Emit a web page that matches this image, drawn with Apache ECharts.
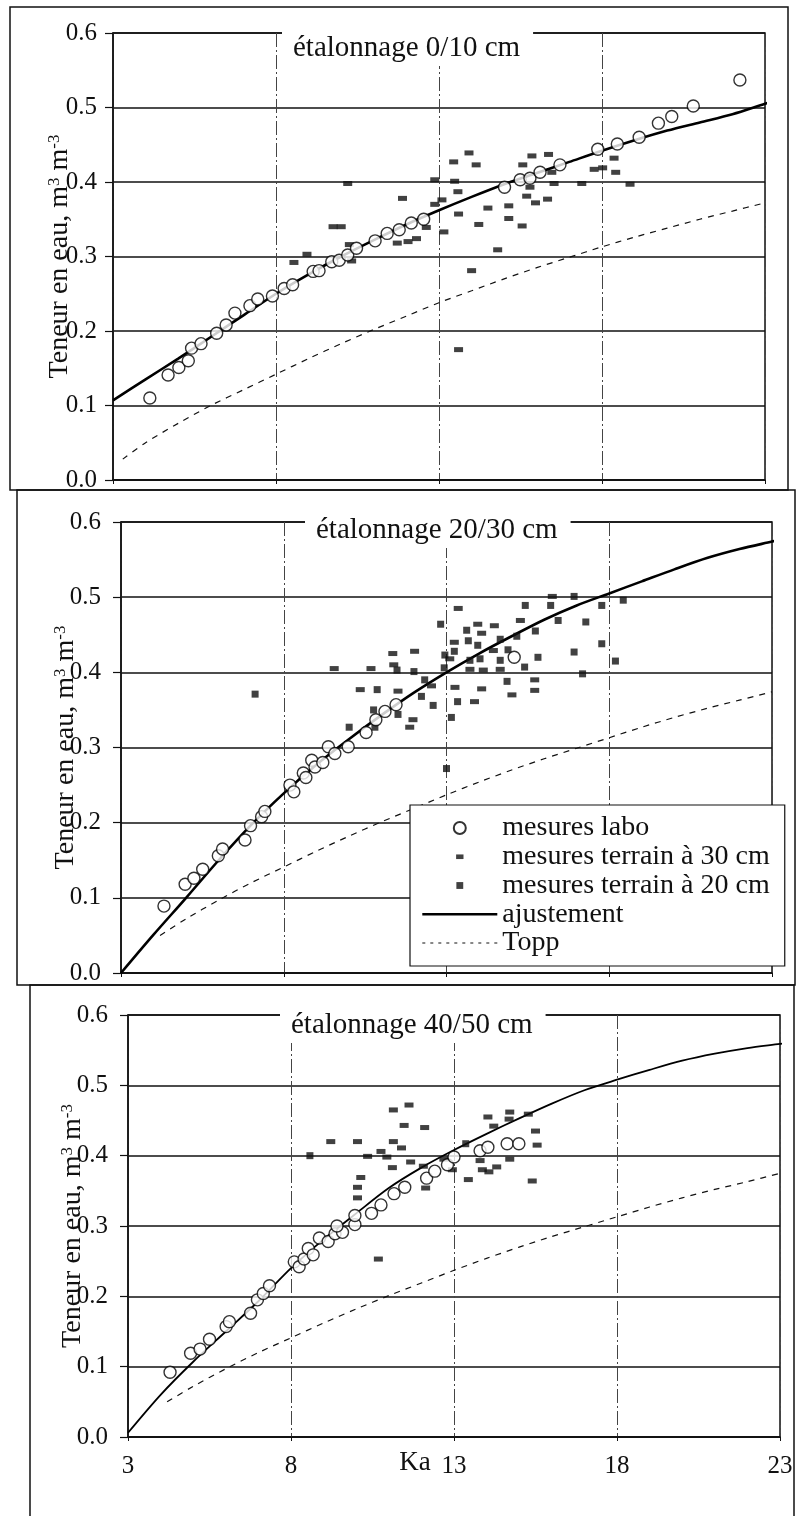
<!DOCTYPE html>
<html><head><meta charset="utf-8">
<script src="https://cdn.jsdelivr.net/npm/echarts@6/dist/echarts.min.js"></script>
<style>html,body{margin:0;padding:0;background:#fff}#c{width:797px;height:1516px}</style>
</head><body><div id="c"></div>
<script>
const FONT = '"Liberation Serif","Times New Roman",serif';
const panelTitles = ['étalonnage 0/10 cm', 'étalonnage 20/30 cm', 'étalonnage 40/50 cm'];
const xTickLabels = ['3', '8', '13', '18', '23'];
const yTickLabels = ['0.0', '0.1', '0.2', '0.3', '0.4', '0.5', '0.6'];
const NAME_LABO = 'mesures labo';
const NAME_T30 = 'mesures terrain à 30 cm';
const NAME_T20 = 'mesures terrain à 20 cm';
const NAME_FIT = 'ajustement';
const NAME_TOPP = 'Topp';

// fitted curves (ajustement)
const fitKa = [3,4,5,6,7,8,9,10,11,12,13,14,15,16,17,18,19,20,21,22,23,23.3];
const p1Fit = [0.107,0.135,0.163,0.192,0.221,0.250,0.276,0.300,0.322,0.343,0.362,0.380,0.397,0.412,0.427,0.442,0.456,0.469,0.480,0.491,0.505,0.509];
const p2Fit = [0.000,0.051,0.100,0.150,0.197,0.239,0.277,0.311,0.343,0.373,0.400,0.425,0.448,0.470,0.489,0.505,0.521,0.537,0.552,0.564,0.574,0.577];
const p3Fit = [0.006,0.060,0.107,0.150,0.193,0.240,0.281,0.318,0.354,0.383,0.408,0.431,0.453,0.474,0.493,0.508,0.522,0.535,0.545,0.553,0.559,0.561];

// Topp curves
const toppKaP1 = [3.3,4,5,6,7,8,9,10,11,12,13,14,15,16,17,18,19,20,21,22,23];
const toppP1 = [0.028,0.050,0.076,0.100,0.121,0.142,0.163,0.183,0.202,0.220,0.238,0.254,0.270,0.285,0.299,0.313,0.326,0.338,0.350,0.361,0.372];
const toppKaP23 = [4.2,5,6,7,8,9,10,11,12,13,14,15,16,17,18,19,20,21,22,23];
const toppP2 = [0.050,0.072,0.097,0.120,0.141,0.162,0.182,0.201,0.219,0.237,0.254,0.270,0.285,0.299,0.313,0.327,0.340,0.352,0.363,0.374];
const toppP3 = [0.050,0.072,0.097,0.120,0.141,0.162,0.182,0.201,0.219,0.237,0.254,0.270,0.285,0.299,0.313,0.327,0.340,0.352,0.363,0.375];

// panel 1 (0/10 cm)
const p1Labo = [[4.13,0.110],[4.69,0.141],[5.02,0.151],[5.31,0.160],[5.41,0.177],[5.70,0.183],[6.18,0.197],[6.47,0.208],[6.74,0.224],[7.20,0.234],[7.44,0.243],[7.89,0.247],[8.25,0.257],[8.51,0.262],[9.14,0.280],[9.32,0.281],[9.71,0.293],[9.94,0.295],[10.20,0.302],[10.47,0.311],[11.04,0.321],[11.41,0.331],[11.78,0.336],[12.15,0.345],[12.53,0.350],[15.01,0.393],[15.49,0.403],[15.79,0.405],[16.10,0.413],[16.71,0.423],[17.87,0.444],[18.47,0.451],[19.14,0.460],[19.73,0.479],[20.14,0.488],[20.80,0.502],[22.23,0.537]];
const p1Field30 = [[8.55,0.292],[8.95,0.303],[9.75,0.340],[10.0,0.340],[10.2,0.398],[10.25,0.316],[10.32,0.294],[11.72,0.318],[12.05,0.320],[11.88,0.378],[12.31,0.324],[12.61,0.339],[12.87,0.403],[12.87,0.370],[13.09,0.376],[13.15,0.333],[13.45,0.427],[13.48,0.401],[13.58,0.387],[13.60,0.357],[13.60,0.175],[13.92,0.439],[14.0,0.281],[14.14,0.423],[14.22,0.343],[14.50,0.365],[14.80,0.309],[15.14,0.368],[15.14,0.351],[15.55,0.341],[15.57,0.423],[15.69,0.381],[15.79,0.393],[15.85,0.435],[15.96,0.372],[16.33,0.377],[16.36,0.437],[16.46,0.413],[16.53,0.398],[17.38,0.398],[17.76,0.417],[18.02,0.419],[18.37,0.432],[18.42,0.413],[18.86,0.397]];
const p1Field20 = [];

// panel 2 (20/30 cm)
const p2Labo = [[4.32,0.089],[4.97,0.118],[5.24,0.126],[5.51,0.138],[5.99,0.156],[6.12,0.165],[6.81,0.177],[6.98,0.196],[7.32,0.208],[7.42,0.215],[8.19,0.250],[8.31,0.241],[8.60,0.266],[8.68,0.260],[8.86,0.283],[8.96,0.274],[9.20,0.280],[9.37,0.301],[9.57,0.292],[9.98,0.301],[10.53,0.320],[10.83,0.337],[11.11,0.348],[11.45,0.357],[15.08,0.420]];
const p2Field30 = [[9.55,0.405],[10.35,0.377],[10.68,0.405],[11.35,0.425],[11.38,0.410],[11.51,0.375],[11.87,0.327],[11.97,0.337],[12.02,0.428],[12.54,0.382],[13.1,0.418],[13.24,0.440],[13.26,0.380],[13.36,0.485],[13.72,0.404],[13.86,0.361],[13.96,0.464],[14.08,0.452],[14.08,0.378],[14.13,0.403],[14.44,0.429],[14.47,0.462],[14.65,0.404],[15.01,0.370],[15.27,0.469],[15.71,0.390],[15.71,0.376],[16.25,0.501]];
const p2Field20 = [[7.12,0.371],[10.01,0.327],[10.76,0.350],[10.80,0.327],[10.87,0.377],[11.48,0.403],[11.51,0.344],[12.0,0.401],[12.23,0.368],[12.33,0.390],[12.59,0.356],[12.82,0.464],[12.93,0.406],[12.95,0.423],[13.0,0.272],[13.15,0.340],[13.24,0.428],[13.34,0.361],[13.62,0.456],[13.67,0.442],[13.72,0.416],[13.96,0.436],[14.03,0.418],[14.65,0.444],[14.65,0.416],[14.86,0.388],[14.89,0.430],[15.16,0.448],[15.40,0.407],[15.42,0.489],[15.73,0.455],[15.81,0.420],[16.20,0.489],[16.43,0.469],[16.92,0.501],[16.92,0.427],[17.18,0.398],[17.28,0.467],[17.77,0.489],[17.77,0.438],[18.19,0.415],[18.43,0.496]];

// panel 3 (40/50 cm)
const p3Labo = [[4.29,0.092],[4.92,0.119],[5.21,0.125],[5.50,0.139],[6.01,0.157],[6.11,0.164],[6.76,0.176],[6.97,0.195],[7.15,0.204],[7.34,0.215],[8.10,0.249],[8.25,0.242],[8.40,0.253],[8.53,0.268],[8.68,0.259],[8.87,0.283],[9.14,0.278],[9.35,0.289],[9.58,0.291],[9.41,0.300],[9.96,0.302],[9.96,0.315],[10.47,0.318],[10.76,0.330],[11.16,0.346],[11.49,0.355],[12.16,0.368],[12.41,0.378],[12.80,0.387],[13.0,0.398],[13.80,0.407],[14.04,0.412],[14.63,0.417],[14.99,0.417]];
const p3Field30 = [[9.22,0.420],[10.04,0.420],[11.14,0.420],[11.14,0.465],[11.62,0.472],[11.47,0.443],[12.10,0.440],[11.39,0.411],[10.35,0.399],[10.76,0.406],[10.94,0.398],[11.67,0.391],[11.11,0.383],[10.14,0.369],[10.04,0.355],[10.04,0.340],[10.68,0.253],[12.13,0.354],[13.44,0.366],[13.80,0.393],[13.87,0.380],[14.07,0.377],[14.31,0.384],[14.71,0.395],[15.40,0.364],[14.04,0.455],[14.71,0.462],[14.22,0.442],[14.69,0.452],[15.28,0.459],[15.50,0.435],[15.55,0.415],[12.06,0.385],[12.69,0.395],[12.95,0.380]];
const p3Field20 = [[8.58,0.400],[13.36,0.417]];

const zip = (xs, ys) => xs.map((x, i) => [x, ys[i]]);

const panels = [
  { grid: {left:113, top:33, width:652, height:447}, labMargin:16, nameGap:39, title:{left:282, top:27},
    labo:p1Labo, f30:p1Field30, f20:p1Field20, fit:zip(fitKa,p1Fit), topp:zip(toppKaP1,toppP1), fitW:2.6 },
  { grid: {left:121, top:522, width:651, height:451}, labMargin:20, nameGap:41, title:{left:305, top:509},
    labo:p2Labo, f30:p2Field30, f20:p2Field20, fit:zip(fitKa,p2Fit), topp:zip(toppKaP23,toppP2), fitW:2.6 },
  { grid: {left:128, top:1015, width:652, height:422}, labMargin:20, nameGap:41, title:{left:280, top:1004},
    labo:p3Labo, f30:p3Field30, f20:p3Field20, fit:zip(fitKa,p3Fit), topp:zip(toppKaP23,toppP3), fitW:1.8 }
];

const grids = [], xAxes = [], yAxes = [], series = [], titles = [];
panels.forEach((p, i) => {
  grids.push(Object.assign({show:true, borderColor:'#111', borderWidth:1.5, backgroundColor:'transparent'}, p.grid));
  titles.push({
    text: panelTitles[i], left: p.title.left, top: p.title.top,
    padding: [6, 13, 3, 11], backgroundColor: '#fff', z: 10,
    textStyle: {fontFamily: FONT, fontSize: 29, fontWeight: 'normal', color: '#111', lineHeight: 30}
  });
  xAxes.push({
    type:'value', gridIndex:i, min:3, max:23, interval:5,
    axisLine:{show:true, onZero:false, lineStyle:{color:'#111', width:1.5}},
    axisTick:{show:true, length:4, lineStyle:{color:'#111'}},
    axisLabel:{show: i === 2, margin:17, fontFamily:FONT, fontSize:25, color:'#111',
      formatter: v => xTickLabels[Math.round((v - 3) / 5)]},
    splitLine:{show:true, lineStyle:{color:'#444', width:1, type:[14,3,2,3]}},
    name: i === 2 ? 'Ka' : '', nameLocation:'middle', nameGap:12, nameMoveOverlap:false,
    nameTextStyle:{fontFamily:FONT, fontSize:27, color:'#111', padding:[0,78,0,0]}
  });
  yAxes.push({
    type:'value', gridIndex:i, min:0, max:0.6, interval:0.1,
    axisLine:{show:true, onZero:false, lineStyle:{color:'#111', width:1.5}},
    axisTick:{show:true, length:8, lineStyle:{color:'#111', width:1.2}},
    axisLabel:{margin:p.labMargin, fontFamily:FONT, fontSize:25, color:'#111',
      formatter: v => yTickLabels[Math.round(v * 10)]},
    splitLine:{show:true, lineStyle:{color:'#111', width:1.5}},
    name:'{m|Teneur en eau, m}{s|3}{m| m}{s|-3}', nameLocation:'middle', nameGap:p.nameGap, nameMoveOverlap:false,
    nameTextStyle:{fontFamily:FONT, color:'#111', rich:{
      m:{fontFamily:FONT, fontSize:28, lineHeight:28, padding:[10,0,0,0], verticalAlign:'bottom', color:'#111'},
      s:{fontFamily:FONT, fontSize:17, lineHeight:17, padding:[0,0,24,0], verticalAlign:'top', color:'#111'}
    }}
  });
  series.push({name:NAME_TOPP, type:'line', xAxisIndex:i, yAxisIndex:i, data:p.topp, symbol:'none', showSymbol:false,
    smooth:0.3, itemStyle:{color:'#111'}, lineStyle:{color:'#111', width:1.2, type:[6,6]}, z:2, silent:true});
  series.push({name:NAME_FIT, type:'line', xAxisIndex:i, yAxisIndex:i, data:p.fit, symbol:'none', showSymbol:false,
    smooth:0.3, clip:false, itemStyle:{color:'#000'}, lineStyle:{color:'#000', width:p.fitW}, z:3, silent:true});
  series.push({name:NAME_T30, type:'scatter', xAxisIndex:i, yAxisIndex:i, data:p.f30, symbol:'rect', symbolSize:[9,5],
    itemStyle:{color:'#111'}, z:4});
  series.push({name:NAME_T20, type:'scatter', xAxisIndex:i, yAxisIndex:i, data:p.f20, symbol:'rect', symbolSize:7,
    itemStyle:{color:'#111'}, z:4});
  series.push({name:NAME_LABO, type:'scatter', xAxisIndex:i, yAxisIndex:i, data:p.labo, symbol:'circle', symbolSize:12,
    itemStyle:{color:'#fff', borderColor:'#000', borderWidth:1.4}, z:5});
});

const chart = echarts.init(document.getElementById('c'), null, {renderer:'canvas'});
chart.setOption({
  backgroundColor:'#fff',
  animation:false,
  title: titles,
  grid: grids,
  xAxis: xAxes,
  yAxis: yAxes,
  legend: {
    orient:'vertical', left:410, top:805, padding:[9,15,9,11],
    itemWidth:75, itemHeight:12, itemGap:0.75,
    backgroundColor:'#fff', borderColor:'#111', borderWidth:1.2, z:20, selectedMode:false,
    textStyle:{fontFamily:FONT, fontSize:28, lineHeight:28, color:'#111'},
    data:[
      {name:NAME_LABO},
      {name:NAME_T30, icon:'path://M0,0L0,0M4,4h8v5h-8zM16,13L16,13'},
      {name:NAME_T20, icon:'path://M0,0L0,0M3,3h8v8h-8zM14,14L14,14'},
      {name:NAME_FIT, itemStyle:{opacity:0}, lineStyle:{width:2.6, color:'#000'}},
      {name:NAME_TOPP, itemStyle:{opacity:0}, lineStyle:{type:[3,5], width:1.2, color:'#111'}}
    ]
  },
  graphic: [
    {type:'rect', silent:true, shape:{x:10, y:7, width:778, height:483}, style:{fill:'none', stroke:'#111', lineWidth:1.5}},
    {type:'rect', silent:true, shape:{x:17, y:490, width:778, height:495}, style:{fill:'none', stroke:'#111', lineWidth:1.5}},
    {type:'rect', silent:true, shape:{x:30, y:985, width:764, height:560}, style:{fill:'none', stroke:'#111', lineWidth:1.5}}
  ],
  series: series
});
</script></body></html>
